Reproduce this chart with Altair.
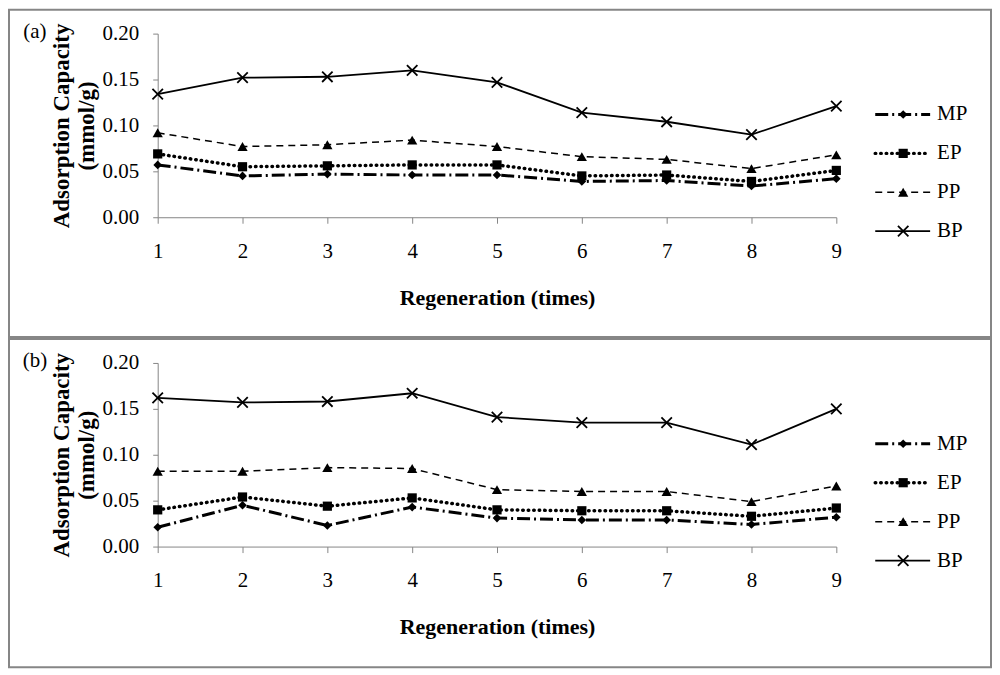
import altair as alt
import pandas as pd

regen = [1, 2, 3, 4, 5, 6, 7, 8, 9]
series = ["MP", "EP", "PP", "BP"]
y_ticks = [0.0, 0.05, 0.10, 0.15, 0.20]

MP_a = [0.057, 0.045, 0.047, 0.046, 0.046, 0.039, 0.040, 0.034, 0.042]
EP_a = [0.069, 0.055, 0.056, 0.057, 0.057, 0.045, 0.046, 0.039, 0.051]
PP_a = [0.092, 0.077, 0.079, 0.084, 0.077, 0.066, 0.063, 0.053, 0.068]
BP_a = [0.134, 0.152, 0.153, 0.160, 0.147, 0.114, 0.104, 0.090, 0.121]

MP_b = [0.021, 0.045, 0.023, 0.043, 0.031, 0.029, 0.029, 0.024, 0.032]
EP_b = [0.040, 0.054, 0.044, 0.053, 0.040, 0.039, 0.039, 0.033, 0.042]
PP_b = [0.082, 0.082, 0.086, 0.085, 0.062, 0.060, 0.060, 0.049, 0.066]
BP_b = [0.162, 0.157, 0.158, 0.167, 0.141, 0.135, 0.135, 0.111, 0.150]

x_title = "Regeneration (times)"
y_title = ["Adsorption Capacity", "(mmol/g)"]

FONT = "'Liberation Serif', 'Times New Roman', Times, serif"
GRAY = "#868686"
XPATH = "M-1,-1L1,1M-1,1L1,-1"

styles = {
    "MP": dict(dash=[13, 4, 2, 4], width=3, cap="butt", shape="diamond", size=75, filled=True),
    "EP": dict(dash=[0.5, 5], width=3.5, cap="round", shape="square", size=85, filled=True),
    "PP": dict(dash=[7, 5], width=1.5, cap="butt", shape="triangle-up", size=105, filled=True),
    "BP": dict(dash=None, width=1.8, cap="butt", shape=XPATH, size=110, filled=False),
}

legend_rows = {"MP": 81, "EP": 120, "PP": 159, "BP": 198}


def line_mark(s):
    st = styles[s]
    kw = dict(color="black", strokeWidth=st["width"], strokeCap=st["cap"])
    if st["dash"] is not None:
        kw["strokeDash"] = st["dash"]
    return kw


def point_mark(s):
    st = styles[s]
    kw = dict(shape=st["shape"], size=st["size"], color="black", opacity=1, filled=st["filled"])
    if not st["filled"]:
        kw["strokeWidth"] = 1.8
    return kw


def panel(tag, data, bottom):
    rows = []
    for s in series:
        for x, v in zip(regen, data[s]):
            rows.append({"series": s, "regen": x, "value": v})
    df = pd.DataFrame(rows)
    one = pd.DataFrame({"k": [0]})

    xenc = alt.X(
        "regen:Q",
        scale=alt.Scale(domain=[1, 9], nice=False, zero=False),
        axis=alt.Axis(values=regen, format="d", tickSize=6, labelPadding=17,
                      title=x_title, titleY=80, titleBaseline="middle"),
    )
    yenc = alt.Y(
        "value:Q",
        scale=alt.Scale(domain=[0, 0.2], nice=False),
        axis=alt.Axis(values=y_ticks, format=".2f", tickSize=5, labelPadding=14,
                      title=y_title, titleX=-96, titleY=92, titleAngle=-90,
                      titleAlign="center", titleBaseline="middle",
                      titleLineHeight=25, titleFontSize=23),
    )

    layers = []
    for s in reversed(series):
        layers.append(
            alt.Chart(df).transform_filter(alt.datum.series == s)
            .mark_line(**line_mark(s)).encode(x=xenc, y=yenc)
        )
    for s in series:
        layers.append(
            alt.Chart(df).transform_filter(alt.datum.series == s)
            .mark_point(**point_mark(s)).encode(x=xenc, y=yenc)
        )
    # border box
    layers.append(
        alt.Chart(one).mark_rect(filled=False, stroke=GRAY, strokeWidth=2).encode(
            x=alt.value(-149), x2=alt.value(835), y=alt.value(-24), y2=alt.value(bottom))
    )
    # legend
    for s in series:
        ry = legend_rows[s]
        layers.append(alt.Chart(one).mark_rule(**line_mark(s)).encode(
            x=alt.value(719), x2=alt.value(774), y=alt.value(ry)))
        layers.append(alt.Chart(one).mark_point(**point_mark(s)).encode(
            x=alt.value(747), y=alt.value(ry)))
        layers.append(alt.Chart(one).mark_text(
            align="left", baseline="middle", font=FONT, fontSize=21, color="black").encode(
            x=alt.value(781), y=alt.value(ry), text=alt.value(s)))
    # panel tag
    layers.append(alt.Chart(one).mark_text(
        align="center", baseline="middle", font=FONT, fontSize=21, color="black").encode(
        x=alt.value(-123), y=alt.value(-2), text=alt.value(tag)))

    return alt.layer(*layers).properties(width=680, height=184)


pa = panel("(a)", {"MP": MP_a, "EP": EP_a, "PP": PP_a, "BP": BP_a}, 304)
pb = panel("(b)", {"MP": MP_b, "EP": EP_b, "PP": PP_b, "BP": BP_b}, 305)

chart = (
    alt.vconcat(pa, pb, spacing=0)
    .properties(padding=0, background="white")
    .configure_view(strokeWidth=0)
    .configure_axis(
        labelFont=FONT, labelFontSize=21, labelColor="black",
        titleFont=FONT, titleFontSize=22, titleFontWeight="bold", titleColor="black",
        domainColor=GRAY, tickColor=GRAY, domainWidth=1, tickWidth=1,
        grid=False, labelFlush=False,
    )
    .configure_text(font=FONT)
)

chart.save("out.html", embed_options={"renderer": "svg", "actions": False})
